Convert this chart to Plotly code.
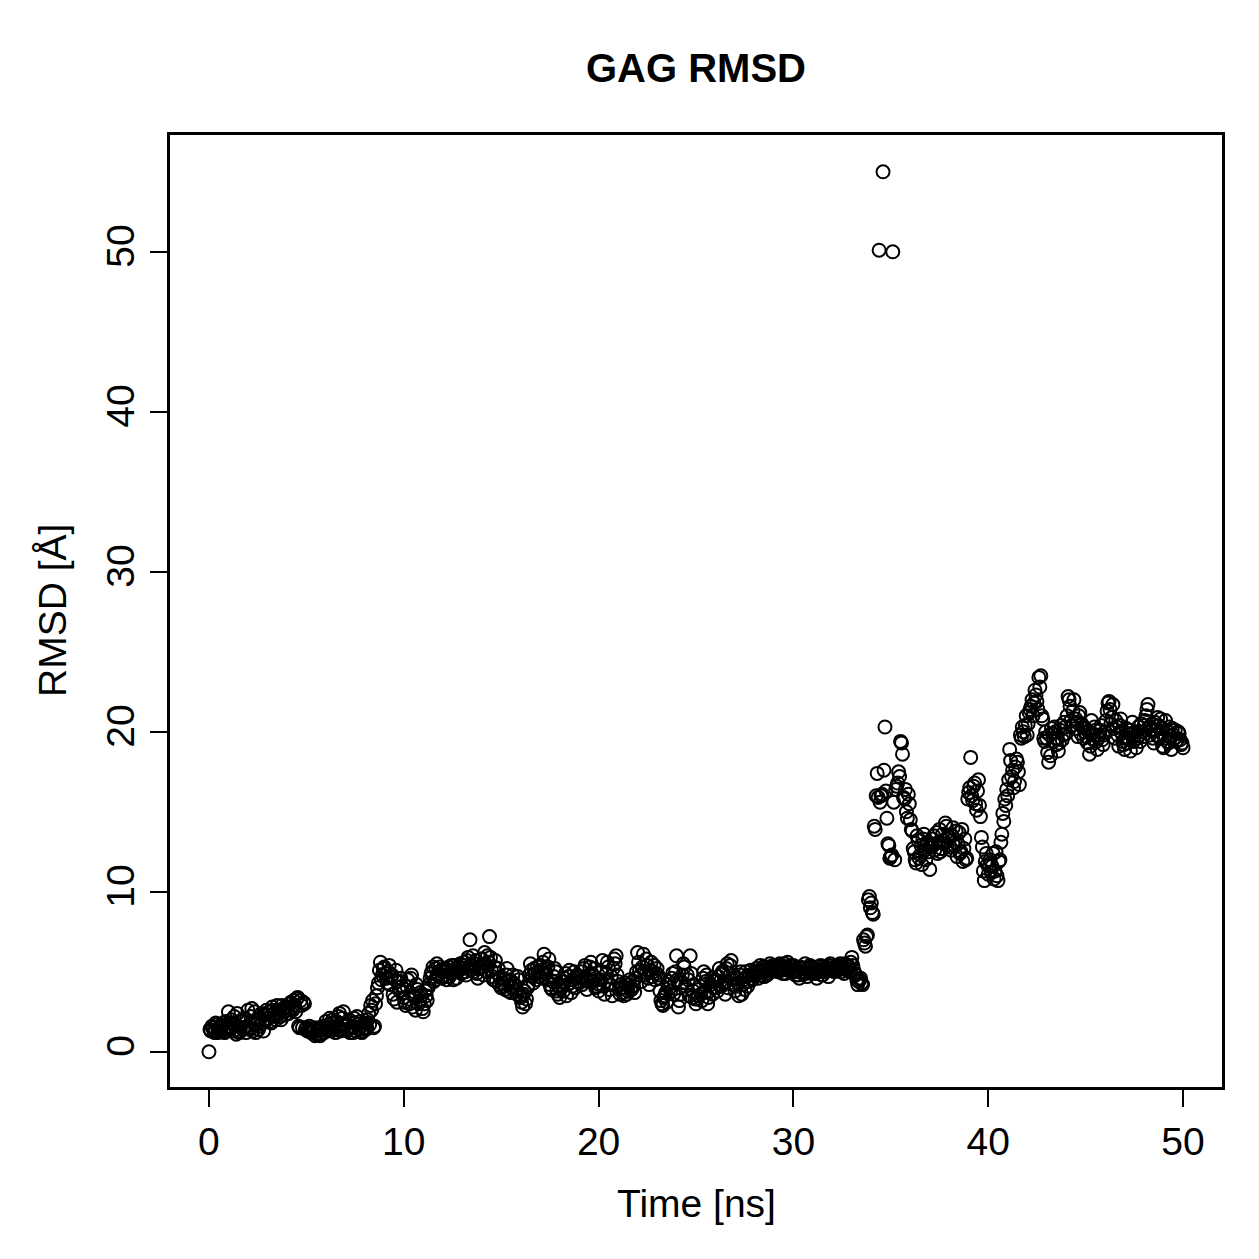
import plotly.graph_objects as go

# Frames on the whole 0.1 ns grid
time_ns = [round(i * 0.1, 1) for i in range(501)]
rmsd = [
    0.0, 1.3, 1.5, 1.2, 1.7, 1.4, 1.3, 1.6, 1.2, 1.5,
    2.5, 1.4, 1.8, 2.2, 1.1, 1.6, 1.3, 2.0, 1.5, 1.2,
    2.6, 1.4, 2.7, 1.8, 1.2, 2.0, 1.6, 2.4, 1.3, 1.9,
    2.1, 2.5, 1.8, 2.6, 2.2, 2.9, 2.4, 2.0, 2.7, 2.3,
    2.8, 2.4, 3.1, 2.6, 2.9, 3.3, 1.6, 3.2, 1.5, 3.0,
    1.5, 1.4, 1.3, 1.2, 1.5, 1.1, 1.3, 1.0, 1.4, 1.2,
    1.9, 1.5, 2.1, 1.3, 1.8, 1.2, 1.6, 2.4, 1.4, 2.5,
    1.7, 1.3, 2.0, 1.5, 1.2, 1.8, 2.2, 1.4, 1.6, 1.3,
    1.8, 1.5, 2.4, 2.9, 3.2, 1.6, 3.5, 4.3, 5.6, 4.8,
    5.3, 4.6, 5.0, 4.2, 4.8, 3.3, 5.1, 4.4, 3.8, 4.1,
    3.4, 2.9, 4.5, 3.0, 4.8, 3.6, 2.6, 3.9, 3.2, 3.5,
    2.5, 3.8, 3.2, 4.2, 4.9, 5.3, 4.5, 5.5, 4.8, 5.1,
    4.7, 5.2, 4.5, 5.3, 4.9, 5.0, 5.4, 4.6, 5.1, 5.5,
    5.2, 5.6, 4.8, 5.9, 7.0, 5.4, 5.0, 5.7, 4.6, 5.3,
    5.8, 4.8, 5.5, 6.0, 7.2, 5.1, 4.5, 5.7, 4.9, 4.2,
    4.0, 4.6, 3.9, 5.2, 4.4, 3.7, 4.8, 4.1, 3.6, 4.5,
    3.4, 2.8, 3.8, 3.3, 4.2, 5.5, 4.7, 5.2, 4.5, 5.0,
    5.4, 4.6, 6.1, 4.9, 5.3, 4.2, 3.9, 4.7, 5.0, 3.6,
    3.4, 4.4, 3.8, 4.9, 4.2, 5.1, 3.7, 4.5, 4.0, 4.8,
    4.3, 5.0, 4.6, 5.4, 3.9, 4.8, 5.6, 4.4, 5.2, 4.1,
    3.8, 4.5, 5.7, 3.6, 4.9, 5.3, 4.2, 3.5, 5.8, 6.0,
    4.4, 3.6, 4.0, 3.5, 4.3, 3.8, 4.5, 3.9, 4.1, 4.6,
    6.2, 5.1, 4.4, 6.1, 4.8, 5.4, 4.2, 5.6, 5.0, 4.5,
    5.2, 4.6, 3.2, 2.9, 3.5, 3.1, 4.4, 3.8, 4.9, 4.3,
    6.0, 2.8, 3.6, 4.8, 5.3, 3.9, 4.5, 6.0, 3.4, 4.2,
    3.0, 3.5, 4.1, 3.2, 5.0, 4.4, 3.0, 3.8, 4.6, 4.0,
    4.5, 3.8, 5.2, 4.1, 4.9, 3.6, 5.5, 4.3, 5.7, 4.8,
    3.8, 4.6, 3.5, 5.0, 4.2, 3.9, 4.7, 4.4, 5.1, 4.5,
    4.8, 5.2, 4.6, 5.4, 5.0, 4.7, 5.3, 4.9, 5.5, 5.1,
    5.2, 5.4, 5.0, 5.5, 5.1, 5.3, 4.9, 5.6, 5.2, 5.0,
    5.4, 4.8, 5.1, 4.6, 5.2, 4.9, 5.5, 4.7, 5.0, 5.3,
    4.9, 5.2, 4.6, 5.0, 5.4, 4.8, 5.1, 5.3, 4.7, 5.5,
    5.2, 5.0, 5.4, 5.1, 5.5, 5.3, 4.9, 5.2, 5.4, 5.0,
    5.9, 5.1, 4.8, 4.2, 4.5, 4.3, 7.0, 6.6, 7.3, 9.7,
    9.3, 8.6, 13.9, 17.4, 50.1, 16.0, 55.0, 20.3, 14.6, 12.9,
    12.2, 50.0, 12.0, 16.6, 17.5, 19.4, 18.6, 15.8, 15.0, 16.1,
    14.5, 13.8, 12.5, 11.8, 13.2, 12.3, 11.7, 13.6, 12.0, 13.0,
    11.4, 12.8, 13.5, 13.0, 12.4, 13.9, 12.7, 13.2, 14.3, 12.9,
    13.4, 12.6, 14.0, 13.1, 12.2, 13.7, 12.5, 11.9, 13.3, 12.1,
    16.2, 18.4, 15.7, 16.8, 15.1, 17.0, 14.7, 12.8, 10.7, 12.4,
    11.1, 12.0, 11.6, 10.8, 12.5, 10.7, 12.0, 13.6, 14.4, 15.4,
    16.0, 18.9, 17.2, 16.5, 17.8, 18.1, 16.7, 19.6, 20.0, 20.4,
    19.8, 21.2, 21.6, 21.0, 22.6, 21.9, 23.4, 23.5, 20.8, 19.4,
    19.6, 18.1, 18.5, 19.9, 20.3, 19.2, 18.8, 20.1, 19.5, 20.6,
    19.9, 22.2, 21.6, 20.4, 22.0, 20.8, 19.7, 21.2, 20.5, 19.6,
    20.2, 19.3, 18.6, 20.7, 19.5, 20.1, 18.9, 19.8, 20.4, 19.2,
    20.0, 21.3, 21.9, 20.5, 21.7, 19.6, 20.3, 19.1, 20.8, 19.4,
    18.9, 20.2, 19.5, 18.8, 20.6, 19.7, 19.0, 20.3, 19.4, 20.0,
    20.4, 21.0, 21.7, 19.8, 20.5, 19.3, 20.1, 20.9, 19.6, 20.2,
    19.0, 20.7, 19.4, 20.3, 18.9, 19.8, 20.1, 19.5, 19.9, 19.2,
    19.0,
]

# Frames in between (0.05 ns offset)
time_half_ns = [round(0.05 + i * 0.1, 2) for i in range(500)]
rmsd_half = [
    1.4, 1.6, 1.3, 1.8, 1.2, 1.5, 1.7, 1.3, 1.9, 1.4,
    1.6, 2.0, 1.3, 1.7, 2.4, 1.2, 1.9, 1.4, 2.1, 1.6,
    1.5, 2.2, 1.3, 2.5, 1.7, 1.4, 2.1, 1.8, 2.3, 2.6,
    2.3, 1.9, 2.8, 2.4, 2.0, 2.6, 2.2, 2.9, 2.5, 2.8,
    2.6, 3.0, 2.7, 3.2, 2.5, 3.4, 1.5, 2.9, 3.1, 1.4,
    1.3, 1.6, 1.2, 1.4, 1.0, 1.3, 1.5, 1.1, 1.6, 1.4,
    1.3, 1.7, 1.5, 2.0, 1.4, 1.9, 2.2, 1.3, 2.1, 1.6,
    1.4, 1.9, 1.2, 1.6, 2.1, 1.3, 1.7, 1.9, 1.2, 1.5,
    1.4, 2.0, 1.7, 2.6, 1.5, 3.0, 4.0, 5.1, 4.5, 5.2,
    4.9, 4.3, 5.4, 4.7, 3.6, 4.5, 3.1, 4.0, 4.6, 3.7,
    3.1, 4.1, 3.3, 4.6, 2.8, 3.4, 4.2, 3.0, 3.7, 2.7,
    3.0, 3.5, 4.0, 4.6, 5.0, 4.4, 5.2, 4.9, 5.3, 4.6,
    5.0, 4.8, 5.1, 4.7, 5.4, 4.5, 5.2, 5.0, 5.3, 4.9,
    5.4, 5.0, 5.7, 5.3, 5.1, 6.0, 5.5, 4.9, 5.2, 5.8,
    5.3, 6.2, 5.0, 5.6, 5.9, 4.7, 5.3, 4.4, 5.2, 4.6,
    4.3, 4.1, 4.8, 3.8, 4.5, 4.0, 4.3, 3.9, 4.7, 3.5,
    3.1, 3.6, 3.0, 4.0, 4.8, 5.1, 4.3, 4.9, 5.3, 4.7,
    5.0, 5.6, 5.2, 4.5, 5.8, 4.0, 4.4, 5.2, 3.8, 4.1,
    3.9, 4.1, 4.6, 3.5, 4.7, 4.3, 4.1, 5.0, 4.6, 4.4,
    4.7, 4.2, 5.2, 4.5, 4.4, 5.3, 4.9, 4.7, 4.0, 4.5,
    4.2, 5.0, 4.1, 4.4, 5.6, 3.9, 4.7, 5.2, 5.5, 4.8,
    3.9, 4.2, 3.7, 4.0, 3.6, 4.2, 4.0, 4.4, 3.7, 5.0,
    5.6, 4.8, 5.3, 5.0, 5.8, 4.6, 5.1, 4.7, 5.4, 4.9,
    4.8, 3.8, 3.0, 3.4, 3.7, 4.2, 4.0, 4.6, 3.6, 5.0,
    4.5, 3.2, 4.3, 5.5, 4.1, 4.8, 3.5, 4.9, 3.8, 3.3,
    3.3, 3.9, 3.6, 4.6, 3.7, 4.8, 3.4, 4.2, 3.6, 4.4,
    4.0, 4.7, 4.4, 5.0, 4.3, 5.2, 4.0, 5.4, 4.6, 4.2,
    4.1, 4.3, 4.8, 3.6, 4.5, 5.0, 4.1, 4.8, 4.6, 4.9,
    5.0, 4.9, 5.1, 4.8, 5.3, 5.1, 4.8, 5.2, 5.0, 5.4,
    5.3, 5.1, 5.4, 5.2, 4.9, 5.5, 5.2, 5.1, 5.4, 5.3,
    5.1, 5.0, 4.8, 5.3, 5.0, 5.2, 4.9, 5.2, 5.4, 5.0,
    5.0, 4.9, 5.3, 5.1, 4.8, 5.3, 5.0, 5.2, 5.4, 5.1,
    5.1, 5.3, 5.2, 5.4, 5.0, 5.2, 5.5, 5.1, 5.3, 5.6,
    5.4, 4.9, 4.5, 4.4, 4.6, 4.2, 6.8, 7.2, 9.5, 9.0,
    8.7, 14.1, 16.0, 15.9, 15.6, 16.1, 17.6, 16.3, 13.0, 12.1,
    12.3, 15.6, 16.4, 16.8, 17.2, 19.3, 15.9, 16.4, 14.6, 15.5,
    13.9, 12.7, 12.0, 13.5, 12.1, 12.9, 13.3, 12.6, 13.1, 12.5,
    12.9, 13.3, 12.6, 13.7, 13.1, 12.5, 13.6, 13.0, 14.1, 13.5,
    12.8, 13.5, 12.9, 13.8, 13.0, 12.4, 13.9, 12.7, 12.0, 15.8,
    16.5, 16.0, 16.6, 15.5, 16.3, 15.4, 13.4, 11.3, 11.9, 11.7,
    11.6, 11.2, 12.4, 11.3, 11.0, 11.9, 13.1, 14.9, 15.8, 16.4,
    17.0, 18.2, 17.6, 16.9, 18.3, 17.5, 19.8, 20.3, 19.7, 21.0,
    20.5, 21.4, 22.0, 21.8, 22.3, 21.4, 22.8, 21.0, 19.6, 20.0,
    18.7, 19.8, 20.2, 19.4, 20.0, 19.6, 19.3, 20.4, 19.8, 20.3,
    21.0, 22.0, 20.7, 21.3, 20.2, 20.6, 21.0, 19.9, 20.3, 20.0,
    19.7, 20.0, 19.1, 19.9, 20.3, 19.4, 19.6, 20.1, 19.5, 19.8,
    20.7, 21.8, 21.4, 20.9, 20.2, 20.7, 19.8, 20.4, 19.9, 19.2,
    19.6, 19.3, 20.1, 19.9, 19.4, 20.0, 19.6, 19.8, 20.5, 19.7,
    20.7, 21.4, 20.3, 20.1, 19.6, 20.6, 19.8, 20.4, 20.8, 19.1,
    19.6, 20.1, 19.3, 19.7, 20.2, 19.6, 19.4, 20.0, 19.5, 19.3,
]

x_ticks = [0, 10, 20, 30, 40, 50]
y_ticks = [0, 10, 20, 30, 40, 50]

FONT = "Liberation Sans, Arial, sans-serif"

all_t = time_ns + time_half_ns
all_v = rmsd + rmsd_half

fig = go.Figure(
    go.Scatter(
        x=all_t,
        y=all_v,
        mode="markers",
        marker=dict(symbol="circle-open", size=13, color="black",
                    line=dict(width=2, color="black")),
        showlegend=False,
    )
)

axis_common = dict(
    showgrid=False,
    zeroline=False,
    showline=True,
    mirror=True,
    linecolor="black",
    linewidth=2.5,
    ticks="outside",
    ticklen=17,
    tickwidth=2,
    tickcolor="black",
    tickfont=dict(family=FONT, size=39, color="black"),
    ticklabelstandoff=1,
)

fig.update_layout(
    width=1259,
    height=1259,
    margin=dict(l=170, r=37, t=135, b=172),
    paper_bgcolor="white",
    plot_bgcolor="white",
    title=dict(text="<b>GAG RMSD</b>", x=696 / 1259, xanchor="center",
               y=1 - 68 / 1259, yanchor="middle",
               font=dict(family=FONT, size=40, color="black")),
    xaxis=dict(range=[-2, 52], tickvals=x_ticks, **axis_common),
    yaxis=dict(range=[-2.2, 57.3], tickvals=y_ticks, tickangle=-90, **axis_common),
    annotations=[
        dict(text="Time [ns]", xref="paper", yref="paper", x=0.5,
             y=(1087 - 1203) / 952, xanchor="center", yanchor="middle",
             showarrow=False, font=dict(family=FONT, size=39, color="black")),
        dict(text="RMSD [Å]", xref="paper", yref="paper",
             x=(52 - 170) / 1052, y=(1087 - 611) / 952, textangle=-90,
             xanchor="center", yanchor="middle",
             showarrow=False, font=dict(family=FONT, size=39, color="black")),
    ],
)

fig.write_html("out.html")
